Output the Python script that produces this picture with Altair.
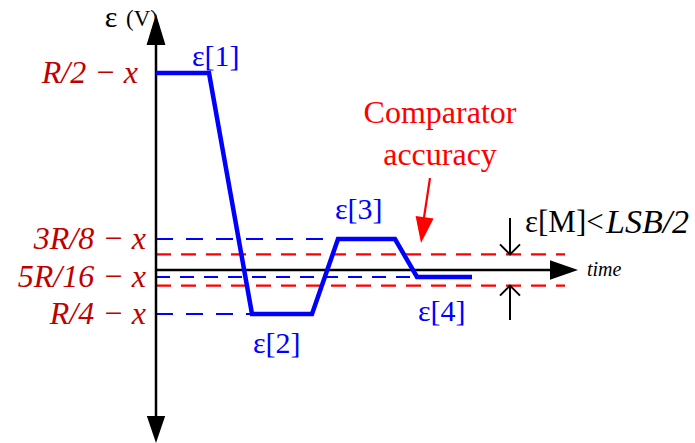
import altair as alt
import pandas as pd

# Residual voltage of the SAR search, in arbitrary units (time axis at 0)
wave_t = [0.0, 1.06, 1.92, 3.12, 3.64, 4.78, 5.22, 6.32]
wave_v = [4.925, 4.925, -1.1, -1.1, 0.775, 0.775, -0.175, -0.175]

# Reference levels (blue dashed) and where each dashed guide stops
level_names = ["R/2 − x", "3R/8 − x", "5R/16 − x", "R/4 − x"]
level_v = [4.925, 0.775, -0.175, -1.1]
level_end = [0.0, 3.64, 5.22, 1.92]
level_dash_on = [17, 17, 14, 17]
level_dash_off = [13, 13, 10, 13]
level_label_t = [-0.36, -0.2, -0.2, -0.2]

# Comparator accuracy band (red dashed)
band_v = [0.39, -0.39]
band_end = 8.18

# Step labels ε[k]
step_text = ["ε[1]", "ε[2]", "ε[3]", "ε[4]"]
step_t = [0.72, 1.94, 3.58, 5.24]
step_v = [5.33, -1.85, 1.5, -1.05]

# Axis extents
t_min, t_max = -3.12, 10.78
v_min, v_max = -4.325, 6.75
t_axis_end = 8.44
v_axis_top, v_axis_bottom = 6.4, -4.325

W, H = 695, 443
xs = alt.Scale(domain=[t_min, t_max], nice=False, zero=False)
ys = alt.Scale(domain=[v_min, v_max], nice=False, zero=False)

def X(field="t"):
    return alt.X(f"{field}:Q", scale=xs, axis=None)

def Y(field="v"):
    return alt.Y(f"{field}:Q", scale=ys, axis=None)

serif = "Times New Roman, Liberation Serif, DejaVu Serif, serif"
BLUE = "#0000ff"
RED = "#ff0000"
DARKRED = "#c00000"

layers = []

# blue dashed guide lines for each level
guides = pd.DataFrame({"v": level_v, "t": [0.0] * 4, "t2": level_end,
                       "on": level_dash_on, "off": level_dash_off})
for _, r in guides.iterrows():
    if r["t2"] <= 0:
        continue
    layers.append(
        alt.Chart(pd.DataFrame([r])).mark_rule(
            color=BLUE, strokeWidth=2.2, strokeDash=[int(r["on"]), int(r["off"])]
        ).encode(x=X(), x2="t2:Q", y=Y())
    )

# red comparator band
band = pd.DataFrame({"v": band_v, "t": [0.0, 0.0], "t2": [band_end, band_end]})
layers.append(
    alt.Chart(band).mark_rule(color=RED, strokeWidth=2.2, strokeDash=[15, 10])
    .encode(x=X(), x2="t2:Q", y=Y())
)

# axes
axis_h = pd.DataFrame({"t": [0.0], "t2": [t_axis_end - 0.3], "v": [0.0]})
layers.append(alt.Chart(axis_h).mark_rule(color="black", strokeWidth=2.5)
              .encode(x=X(), x2="t2:Q", y=Y()))
axis_v = pd.DataFrame({"t": [0.0], "v": [v_axis_bottom + 0.4], "v2": [v_axis_top - 0.4]})
layers.append(alt.Chart(axis_v).mark_rule(color="black", strokeWidth=2.5)
              .encode(x=X(), y=Y(), y2="v2:Q"))

# axis arrowheads (tip at the data point)
heads = [
    ("M0,0L0.61,2L-0.61,2Z", 961, 0.0, v_axis_top),
    ("M0,0L0.68,-2L-0.68,-2Z", 729, 0.0, v_axis_bottom),
    ("M0,0L-2,-0.7L-2,0.7Z", 784, t_axis_end, 0.0),
]
for path, size, t, v in heads:
    layers.append(
        alt.Chart(pd.DataFrame({"t": [t], "v": [v]})).mark_point(
            shape=path, size=size, filled=True, color="black", opacity=1, strokeWidth=0
        ).encode(x=X(), y=Y())
    )

# waveform
wave = pd.DataFrame({"t": wave_t, "v": wave_v, "i": range(len(wave_t))})
layers.append(
    alt.Chart(wave).mark_line(color=BLUE, strokeWidth=4.5, strokeJoin="miter")
    .encode(x=X(), y=Y(), order="i:Q")
)

# level labels
lab = pd.DataFrame({"t": level_label_t, "v": level_v, "text": level_names})
layers.append(
    alt.Chart(lab).mark_text(align="right", baseline="middle", font=serif,
                             fontStyle="italic", fontSize=32, color=DARKRED)
    .encode(x=X(), y=Y(), text="text:N")
)

# step labels
steps = pd.DataFrame({"t": step_t, "v": step_v, "text": step_text})
layers.append(
    alt.Chart(steps).mark_text(align="left", baseline="middle", font=serif,
                               fontSize=30, color=BLUE)
    .encode(x=X(), y=Y(), text="text:N")
)

# comparator accuracy note with arrow
note = pd.DataFrame({"t": [5.68, 5.68], "v": [3.93, 2.875],
                     "text": ["Comparator", "accuracy"]})
layers.append(
    alt.Chart(note).mark_text(align="center", baseline="middle", font=serif,
                              fontSize=32, color=RED)
    .encode(x=X(), y=Y(), text="text:N")
)
red_arrow = pd.DataFrame({"t": [5.48], "v": [2.3], "t2": [5.31], "v2": [0.9]})
layers.append(
    alt.Chart(red_arrow).mark_rule(color=RED, strokeWidth=2.2)
    .encode(x=X(), y=Y(), x2="t2:Q", y2="v2:Q")
)
layers.append(
    alt.Chart(pd.DataFrame({"t": [5.3], "v": [0.675]})).mark_point(
        shape="M0,0L0.7,-2L-0.7,-2Z", size=676, angle=8, filled=True,
        color=RED, opacity=1, strokeWidth=0
    ).encode(x=X(), y=Y())
)

# LSB/2 bracket arrows
marker_t = 7.08
bracket = pd.DataFrame({"t": [marker_t, marker_t], "v": [1.3, -1.25],
                        "v2": [band_v[0], band_v[1]]})
layers.append(
    alt.Chart(bracket).mark_rule(color="black", strokeWidth=2)
    .encode(x=X(), y=Y(), y2="v2:Q")
)
for path, v in [("M-1,-1L0,0L1,-1", band_v[0]), ("M-1,1L0,0L1,1", band_v[1])]:
    layers.append(
        alt.Chart(pd.DataFrame({"t": [marker_t], "v": [v]})).mark_point(
            shape=path, size=400, filled=False, color="black", opacity=1, strokeWidth=2
        ).encode(x=X(), y=Y())
    )

lsb_a = pd.DataFrame({"t": [7.38], "v": [1.175], "text": ["ε[M]<"]})
layers.append(
    alt.Chart(lsb_a).mark_text(align="left", baseline="middle", font=serif,
                               fontSize=31, color="black")
    .encode(x=X(), y=Y(), text="text:N")
)
lsb_b = pd.DataFrame({"t": [9.0], "v": [1.175], "text": ["LSB/2"]})
layers.append(
    alt.Chart(lsb_b).mark_text(align="left", baseline="middle", font=serif,
                               fontStyle="italic", fontSize=34, color="black")
    .encode(x=X(), y=Y(), text="text:N")
)

# axis titles
time_lab = pd.DataFrame({"t": [8.62], "v": [0.0], "text": ["time"]})
layers.append(
    alt.Chart(time_lab).mark_text(align="left", baseline="middle", font=serif,
                                  fontStyle="italic", fontSize=20, color="black")
    .encode(x=X(), y=Y(), text="text:N")
)
eps_lab = pd.DataFrame({"t": [-0.9], "v": [6.3], "text": ["ε"]})
layers.append(
    alt.Chart(eps_lab).mark_text(align="center", baseline="middle", font=serif,
                                 fontSize=30, color="black")
    .encode(x=X(), y=Y(), text="text:N")
)
unit_lab = pd.DataFrame({"t": [-0.6], "v": [6.28], "text": ["(V)"]})
layers.append(
    alt.Chart(unit_lab).mark_text(align="left", baseline="middle", font=serif,
                                  fontSize=23, color="black")
    .encode(x=X(), y=Y(), text="text:N")
)

chart = alt.layer(*layers).properties(
    width=W, height=H, autosize=alt.AutoSizeParams(type="none"), padding=0,
    background="white"
).configure_view(stroke=None)

chart.save("out.html", embed_options={"renderer": "svg", "actions": False})
